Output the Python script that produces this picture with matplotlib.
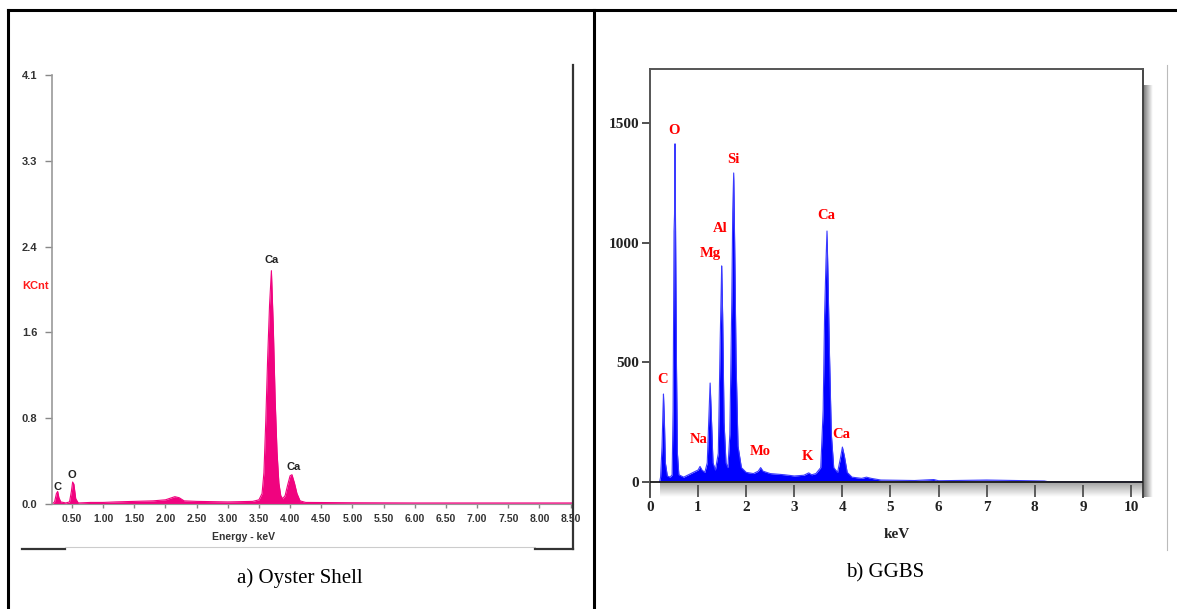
import numpy as np
import matplotlib.pyplot as plt
from matplotlib.lines import Line2D

W, H = 1177, 609

# ---- a) Oyster Shell spectrum (keV, KCnt) ----
oyster_kev = [0.18, 0.22, 0.25, 0.27, 0.29, 0.32, 0.40, 0.46, 0.49, 0.51, 0.53, 0.56, 0.60,
              0.80, 1.00, 1.20, 1.50, 1.80, 2.00, 2.10, 2.15, 2.22, 2.30, 2.50, 3.00, 3.40,
              3.50, 3.55, 3.58, 3.61, 3.64, 3.67, 3.70, 3.73, 3.76, 3.79, 3.82, 3.85, 3.88,
              3.92, 3.96, 4.00, 4.03, 4.07, 4.11, 4.16, 4.25, 5.00, 6.00, 7.00, 8.55]
oyster_cnt = [0.0, 0.02, 0.10, 0.12, 0.06, 0.02, 0.01, 0.02, 0.12, 0.21, 0.19, 0.05, 0.01,
              0.015, 0.015, 0.02, 0.025, 0.03, 0.04, 0.06, 0.07, 0.06, 0.03, 0.025, 0.02, 0.025,
              0.04, 0.10, 0.30, 0.80, 1.40, 1.90, 2.23, 1.70, 1.00, 0.50, 0.20, 0.08, 0.05,
              0.08, 0.18, 0.27, 0.28, 0.20, 0.10, 0.03, 0.015, 0.012, 0.01, 0.01, 0.01]
oyster_labels = ['C', 'O', 'Ca', 'Ca']
oyster_lab_x = [0.26, 0.49, 3.71, 4.05]
oyster_lab_y = [0.16, 0.28, 2.33, 0.35]
oyster_yticks = [0.0, 0.82, 1.64, 2.46, 3.28, 4.1]
oyster_yticklabels = ['0.0', '0.8', '1.6', '2.4', '3.3', '4.1']
oyster_xticks = [0.5, 1.0, 1.5, 2.0, 2.5, 3.0, 3.5, 4.0, 4.5, 5.0, 5.5, 6.0, 6.5, 7.0, 7.5, 8.0, 8.5]

# ---- b) GGBS spectrum (keV, counts) ----
ggbs_kev = [0.20, 0.22, 0.25, 0.27, 0.28, 0.30, 0.32, 0.36, 0.42, 0.46, 0.48, 0.50, 0.51, 0.52,
            0.53, 0.55, 0.57, 0.60, 0.70, 0.80, 0.90, 1.00, 1.04, 1.08, 1.14, 1.19, 1.22, 1.25,
            1.28, 1.31, 1.36, 1.42, 1.46, 1.48, 1.49, 1.51, 1.54, 1.58, 1.62, 1.66, 1.70, 1.72,
            1.74, 1.76, 1.79, 1.83, 1.90, 2.00, 2.15, 2.25, 2.30, 2.35, 2.50, 2.80, 3.00, 3.20,
            3.30, 3.36, 3.45, 3.55, 3.60, 3.63, 3.66, 3.68, 3.70, 3.73, 3.77, 3.82, 3.90, 3.96,
            4.00, 4.04, 4.10, 4.20, 4.40, 4.50, 4.60, 4.80, 5.50, 5.90, 6.00, 7.00, 8.20, 8.30, 10.25]
ggbs_cnt = [0, 20, 150, 300, 368, 250, 80, 25, 20, 30, 300, 1050, 1120, 1415,
            1100, 500, 120, 30, 20, 30, 40, 50, 65, 50, 40, 80, 250, 414,
            250, 80, 50, 120, 600, 800, 904, 700, 250, 80, 60, 200, 750, 1130,
            1293, 1000, 500, 150, 60, 40, 35, 45, 60, 45, 35, 30, 25, 28,
            38, 30, 35, 60, 300, 700, 930, 1050, 870, 550, 200, 60, 40, 100,
            146, 110, 40, 20, 15, 20, 15, 8, 6, 10, 5, 8, 4, 0, 0]
ggbs_labels = ['O', 'Si', 'Al', 'Mg', 'Ca', 'C', 'Na', 'Mo', 'K', 'Ca']
ggbs_lab_x = [0.50, 1.73, 1.46, 1.25, 3.66, 0.27, 1.02, 2.29, 3.28, 3.97]
ggbs_lab_y = [1469, 1351, 1059, 954, 1117, 427, 176, 126, 105, 197]
ggbs_yticks = [0, 500, 1000, 1500]
ggbs_xticks = [0, 1, 2, 3, 4, 5, 6, 7, 8, 9, 10]


def box(l, t, r, b):
    return [l / W, 1 - b / H, (r - l) / W, (b - t) / H]


def fline(fig, xs, ys, **kw):
    fig.add_artist(Line2D([x / W for x in xs], [1 - y / H for y in ys], **kw))


fig = plt.figure(figsize=(W / 100, H / 100), dpi=100)
narrow = ['Liberation Sans Narrow', 'Liberation Sans', 'DejaVu Sans']
serif = ['Liberation Serif', 'DejaVu Serif']

# table borders
fline(fig, [8, W], [10, 10], color='black', lw=2.2)
fline(fig, [8, 8], [10, H], color='black', lw=2.2)
fline(fig, [594, 594], [10, H], color='black', lw=2.2)

# ---------- left panel ----------
ax1 = fig.add_axes(box(52, 75, 573, 504))
ax1.fill_between(oyster_kev, oyster_cnt, color='#f0037f', lw=0)
ax1.plot(oyster_kev, oyster_cnt, color='#f0037f', lw=0.8)
ax1.set_xlim(0.179, 8.54)
ax1.set_ylim(0, 4.1)
ax1.set_yticks(oyster_yticks)
ax1.set_yticklabels(oyster_yticklabels)
ax1.set_xticks(oyster_xticks)
ax1.set_xticklabels(['%.2f' % v for v in oyster_xticks])
for s in ['top', 'right']:
    ax1.spines[s].set_visible(False)
ax1.spines['left'].set_color('#999999')
ax1.spines['bottom'].set_color('#999999')
ax1.spines['left'].set_linewidth(1.2)
ax1.tick_params(axis='y', length=5, width=1, color='#888888', pad=5.5,
                labelsize=8, labelcolor='#333333')
ax1.tick_params(axis='x', length=3, width=1, color='#888888', pad=4,
                labelsize=7.5, labelcolor='#333333')
for lab in ax1.get_xticklabels() + ax1.get_yticklabels():
    lab.set_family(narrow)
    lab.set_fontweight('bold')
for t, x, y in zip(oyster_labels, oyster_lab_x, oyster_lab_y):
    ax1.text(x, y, t, ha='center', va='center', fontsize=8, fontweight='bold',
             color='#222222', family=narrow)
fig.text(22 / W, 1 - 286 / H, 'KCnt', color='#ff1a1a', fontsize=8, fontweight='bold',
         family=narrow, ha='left', va='center')
fig.text(243 / W, 1 - 537 / H, 'Energy - keV', color='#333333', fontsize=7.5,
         fontweight='bold', family=narrow, ha='center', va='center')
fline(fig, [573, 573], [65, 549], color='#333333', lw=1.6)
fline(fig, [22, 65], [549, 549], color='#333333', lw=1.6)
fline(fig, [65, 535], [547, 547], color='#cccccc', lw=0.8)
fline(fig, [535, 573], [549, 549], color='#333333', lw=1.6)
fig.text(300 / W, 1 - 578 / H, 'a) Oyster Shell', fontsize=15, family=serif,
         ha='center', va='center')

# ---------- right panel ----------
ax2 = fig.add_axes(box(650, 69, 1143, 497))
ax2.fill_between(ggbs_kev, ggbs_cnt, color='#0000ff', lw=0)
ax2.plot(ggbs_kev, ggbs_cnt, color='#3a3aff', lw=0.8)
ax2.axhline(0, color='#1a1a1a', lw=1.3, zorder=3)
grad = np.linspace(0.6, 1.0, 50).reshape(-1, 1)
ax2.imshow(grad, cmap='gray', vmin=0, vmax=1, aspect='auto',
           extent=[0.2, 10.45, -63, 0], origin='upper', zorder=1, clip_on=False)
shade = np.linspace(0.45, 1.0, 30).reshape(1, -1)
ax2.imshow(shade, cmap='gray', vmin=0, vmax=1, aspect='auto',
           extent=[10.25, 10.45, -63, 1660], zorder=1, clip_on=False)
ax2.set_xlim(0, 10.25)
ax2.set_ylim(-63, 1728)
ax2.set_yticks(ggbs_yticks)
ax2.set_xticks(ggbs_xticks)
ax2.spines['bottom'].set_visible(False)
ax2.spines['top'].set_color('#555555')
ax2.spines['right'].set_color('#444444')
ax2.spines['left'].set_color('#555555')
for s in ['top', 'right', 'left']:
    ax2.spines[s].set_linewidth(1.4)
ax2.tick_params(axis='y', length=6, width=1.2, color='#333333', pad=2,
                labelsize=11)
ax2.tick_params(axis='x', direction='in', length=9, width=1.2, color='#444444',
                pad=3, labelsize=11)
for lab in ax2.get_xticklabels() + ax2.get_yticklabels():
    lab.set_family(serif)
    lab.set_fontweight('bold')
    lab.set_color('#222222')
for t, x, y in zip(ggbs_labels, ggbs_lab_x, ggbs_lab_y):
    ax2.text(x, y, t, ha='center', va='center', fontsize=10.5, fontweight='bold',
             color='#ff0000', family=serif)
fig.text(897 / W, 1 - 535 / H, 'keV', fontsize=11, fontweight='bold', family=serif,
         color='#222222', ha='center', va='center')
fline(fig, [1167, 1167], [65, 550], color='#bbbbbb', lw=0.8)
fig.text(885 / W, 1 - 573 / H, 'b) GGBS', fontsize=15, family=serif,
         ha='center', va='center')

fig.savefig('out.png', dpi=100)
